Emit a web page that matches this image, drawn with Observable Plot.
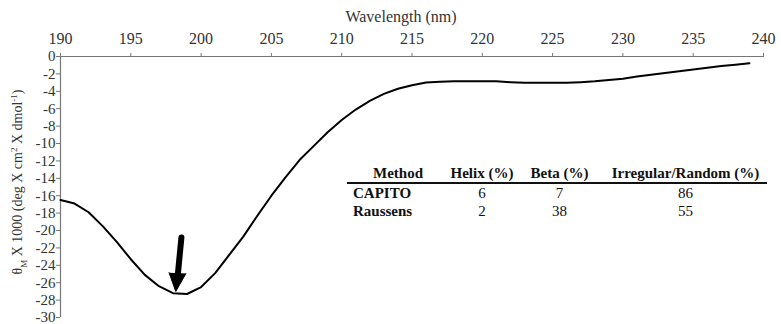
<!DOCTYPE html>
<html>
<head>
<meta charset="utf-8">
<script src="https://cdn.jsdelivr.net/npm/d3@7"></script>
<script src="https://cdn.jsdelivr.net/npm/@observablehq/plot@0.6"></script>
<style>
  html, body { margin: 0; padding: 0; background: #fff; }
  #wrap { position: relative; width: 781px; height: 324px; }
  #wrap svg, #wrap svg text { font-family: "Liberation Serif", "Times New Roman", Times, serif !important; }
  #tbl { position: absolute; left: 347px; top: 165px; border-collapse: collapse;
         font-family: "Liberation Serif", "Times New Roman", Times, serif; font-size: 15px; color: #111; }
  #tbl td, #tbl th { padding: 0; line-height: 18px; text-align: center; white-space: nowrap; }
  #tbl th { font-weight: bold; line-height: 17px; border-bottom: 2px solid #111; }
  #tbl td.m { text-align: left; padding-left: 6px; font-weight: bold; }
</style>
</head>
<body>
<div id="wrap"></div>
<script>
// ---- data ----
const wavelength = [190,191,192,193,194,195,196,197,198,199,200,201,202,203,204,205,206,207,208,209,
                    210,211,212,213,214,215,216,217,218,219,220,221,222,223,224,225,226,227,228,229,
                    230,231,232,233,234,235,236,237,238,239];
const ellipticity = [-16.5,-16.9,-17.9,-19.5,-21.3,-23.3,-25.1,-26.4,-27.2,-27.3,-26.5,-24.9,-22.8,-20.7,-18.3,-16.0,-13.9,-11.9,-10.3,-8.7,
                     -7.3,-6.1,-5.1,-4.3,-3.7,-3.3,-3.0,-2.9,-2.85,-2.85,-2.85,-2.85,-2.95,-3.03,-3.03,-3.03,-3.03,-2.95,-2.85,-2.7,
                     -2.55,-2.3,-2.1,-1.9,-1.7,-1.5,-1.3,-1.1,-0.95,-0.77];
const xTicks = [190,195,200,205,210,215,220,225,230,235,240];
const yTicks = [0,-2,-4,-6,-8,-10,-12,-14,-16,-18,-20,-22,-24,-26,-28,-30];
// arrow annotation (data coordinates)
const arrowShaft = [{w:198.6, v:-20.8}, {w:198.33, v:-25.3}];
const arrowHead  = [{w:197.72, v:-24.85}, {w:198.2, v:-27.0}, {w:198.92, v:-24.95}];
// table
const tableHeader = ["Method", "Helix (%)", "Beta (%)", "Irregular/Random (%)"];
const methods = ["CAPITO", "Raussens"];
const helix = [6, 2];
const beta = [7, 38];
const irregular = [86, 55];

const data = wavelength.map((w, i) => ({w, v: ellipticity[i]}));

const plot = Plot.plot({
  width: 781, height: 324,
  marginLeft: 60, marginRight: 18, marginTop: 56, marginBottom: 7,
  style: {fontFamily: "Liberation Serif, Times New Roman, serif", fontSize: "15px", color: "#333", background: "#fff"},
  x: {domain: [190, 240]},
  y: {domain: [-30, 0]},
  marks: [
    Plot.ruleY([0], {stroke: "#777", strokeWidth: 1.2}),
    Plot.ruleX([190], {stroke: "#777", strokeWidth: 1.2}),
    Plot.axisX({anchor: "top", ticks: xTicks, tickSize: 4, tickPadding: 9, stroke: "#777",
                fontSize: 16, label: null}),
    Plot.axisY({ticks: yTicks, tickSize: 4, tickPadding: 1, stroke: "#777", fontSize: 15,
                tickFormat: d => String(d), label: null}),
    Plot.line(data, {x: "w", y: "v", stroke: "#000", strokeWidth: 2}),
    Plot.line(arrowShaft, {x: "w", y: "v", stroke: "#000", strokeWidth: 6}),
    Plot.line(arrowHead, {x: "w", y: "v", stroke: "#000", fill: "#000", strokeWidth: 1})
  ]
});

const wrap = document.getElementById("wrap");
wrap.appendChild(plot);

const svg = d3.select(plot);
// x-axis title
svg.append("text")
  .attr("x", 401).attr("y", 22)
  .attr("text-anchor", "middle")
  .attr("fill", "#333")
  .style("font-size", "16px")
  .text("Wavelength (nm)");

// y-axis title with sub/superscripts
const t = svg.append("text")
  .attr("transform", "translate(22,182) rotate(-90)")
  .attr("text-anchor", "middle")
  .attr("fill", "#333")
  .style("font-size", "14px");
t.append("tspan").text("θ");
t.append("tspan").attr("baseline-shift", "sub").style("font-size", "9px").text("M");
t.append("tspan").text(" X 1000 (deg X cm");
t.append("tspan").attr("baseline-shift", "super").style("font-size", "9px").text("2");
t.append("tspan").text(" X dmol");
t.append("tspan").attr("baseline-shift", "super").style("font-size", "9px").text("-1");
t.append("tspan").text(")");

// table
const tbl = document.createElement("table");
tbl.id = "tbl";
const colW = [102, 66, 89, 163];
const cg = document.createElement("colgroup");
colW.forEach(w => { const c = document.createElement("col"); c.style.width = w + "px"; cg.appendChild(c); });
tbl.appendChild(cg);
const hr = document.createElement("tr");
tableHeader.forEach(h => { const th = document.createElement("th"); th.textContent = h; hr.appendChild(th); });
tbl.appendChild(hr);
methods.forEach((m, i) => {
  const tr = document.createElement("tr");
  [m, helix[i], beta[i], irregular[i]].forEach((val, j) => {
    const td = document.createElement("td");
    td.textContent = val;
    if (j === 0) td.className = "m";
    tr.appendChild(td);
  });
  tbl.appendChild(tr);
});
tbl.style.width = colW.reduce((a, b) => a + b, 0) + "px";
tbl.style.tableLayout = "fixed";
wrap.appendChild(tbl);
</script>
</body>
</html>
